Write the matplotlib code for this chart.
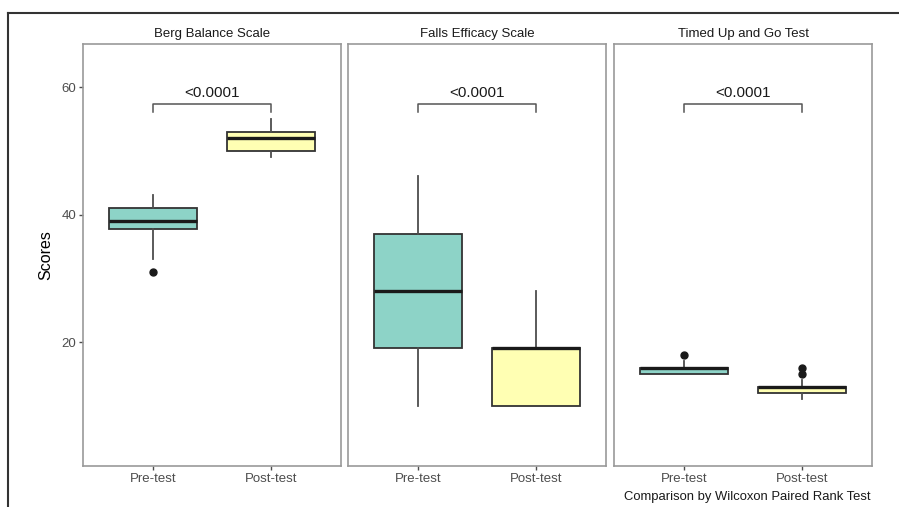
import matplotlib.pyplot as plt
from matplotlib.lines import Line2D

plt.rcParams['font.family'] = ['Liberation Sans', 'DejaVu Sans']

scales = ['Berg Balance Scale', 'Falls Efficacy Scale', 'Timed Up and Go Test']
groups = ['Pre-test', 'Post-test']
colors = ['#8DD3C7', '#FFFFB3']

# box stats: [pre, post] for each scale
q1 = [[37.7, 50], [19, 10], [15, 12]]
med = [[39, 52], [28, 19], [16, 13]]
q3 = [[41, 53], [37, 19], [16, 13]]
whislo = [[33, 49], [10, 10], [15, 11]]
whishi = [[43, 55], [46, 28], [17, 14]]
fliers = [[[31], []], [[], []], [[18], [15, 16]]]
pvals = ['<0.0001', '<0.0001', '<0.0001']

fig = plt.figure(figsize=(8.99, 5.07), dpi=100)

lefts = [83, 348, 614]
pw = 258
top, bottom = 44, 466
W, H = 899, 507

for k in range(3):
    ax = fig.add_axes([lefts[k] / W, 1 - bottom / H, pw / W, (bottom - top) / H])
    stats = []
    for j in range(2):
        stats.append(dict(q1=q1[k][j], med=med[k][j], q3=q3[k][j],
                          whislo=whislo[k][j], whishi=whishi[k][j],
                          fliers=fliers[k][j]))
    bp = ax.bxp(stats, positions=[1, 2], widths=0.75, patch_artist=True,
                showcaps=False,
                boxprops=dict(edgecolor='#333333', linewidth=1.3),
                medianprops=dict(color='#1a1a1a', linewidth=2.4, solid_capstyle='butt'),
                whiskerprops=dict(color='#4d4d4d', linewidth=1.3),
                flierprops=dict(marker='o', markerfacecolor='#1a1a1a',
                                markeredgecolor='#1a1a1a', markersize=5))
    for patch, c in zip(bp['boxes'], colors):
        patch.set_facecolor(c)
    ax.set_xlim(0.4, 2.6)
    ax.set_ylim(0.55, 66.75)
    ax.set_xticks([1, 2])
    ax.set_xticklabels(groups, fontsize=9.5, color='#4d4d4d')
    ax.set_yticks([20, 40, 60])
    if k == 0:
        ax.set_yticklabels(['20', '40', '60'], fontsize=9.5, color='#4d4d4d')
        ax.set_ylabel('Scores', fontsize=11.5, labelpad=6)
    else:
        ax.tick_params(axis='y', left=False, labelleft=False)
    ax.tick_params(axis='both', length=3, width=1, color='#4d4d4d', pad=2)
    for s in ax.spines.values():
        s.set_color('#999999')
        s.set_linewidth(1.2)
    ax.set_title(scales[k], fontsize=9.5, color='#1a1a1a', pad=5)
    # significance bracket
    ax.plot([1, 1, 2, 2], [56.1, 57.3, 57.3, 56.1], color='#555555', lw=1.1)
    ax.text(1.5, 58.0, pvals[k], ha='center', va='bottom', fontsize=11, color='#1a1a1a')

fig.text(870 / W, 1 - 497 / H, 'Comparison by Wilcoxon Paired Rank Test',
         ha='right', va='center', fontsize=9.4, color='#1a1a1a')

# outer frame lines (top and left)
fig.add_artist(Line2D([8 / W, 1], [1 - 13 / H, 1 - 13 / H], color='#333333', lw=1.5))
fig.add_artist(Line2D([8 / W, 8 / W], [0, 1 - 13 / H], color='#333333', lw=1.5))

fig.savefig('out.png', dpi=100)
